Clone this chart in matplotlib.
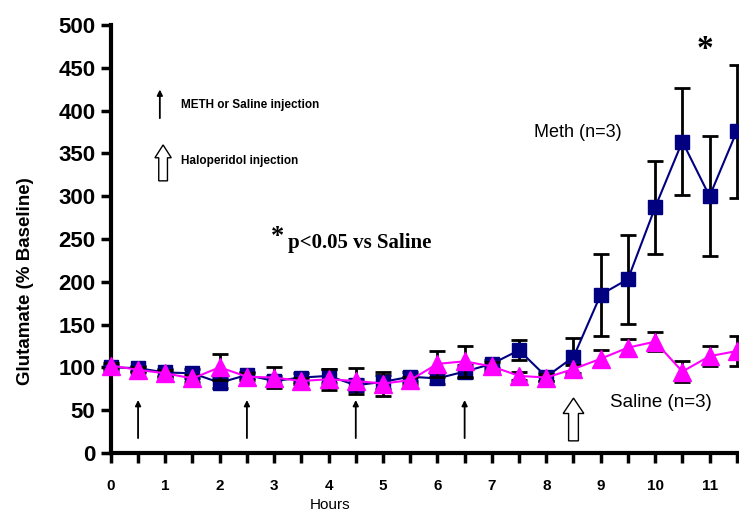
import matplotlib
matplotlib.use("Agg")
import matplotlib.pyplot as plt
from matplotlib.patches import FancyArrow

hours = [0, 0.5, 1, 1.5, 2, 2.5, 3, 3.5, 4, 4.5, 5, 5.5, 6, 6.5, 7, 7.5, 8, 8.5,
         9, 9.5, 10, 10.5, 11, 11.5]
meth = [100, 99, 94, 93, 82, 91, 84, 88, 90, 79, 83, 89, 87, 95, 104, 120, 89, 112,
        185, 203, 287, 364, 300, 376]
meth_err = [3, 3, 4, 5, 6, 4, 6, 5, 8, 7, 8, 5, 6, 8, 5, 12, 5, 22,
            48, 52, 54, 63, 70, 78]
saline = [102, 97, 93, 87, 100, 89, 88, 84, 86, 84, 81, 85, 104, 107, 101, 90, 88, 98,
          110, 123, 130, 95, 113, 119]
saline_err = [3, 3, 4, 4, 15, 4, 12, 4, 12, 15, 14, 4, 15, 18, 5, 5, 4, 5,
              10, 10, 11, 12, 12, 18]
meth_inj_hours = [0.5, 2.5, 4.5, 6.5]
halo_hour = 8.5
x_labels = [str(i) for i in range(12)]
y_ticks = [0, 50, 100, 150, 200, 250, 300, 350, 400, 450, 500]

plt.rcParams['font.family'] = ['Liberation Sans', 'DejaVu Sans']

fig = plt.figure(figsize=(7.39, 5.14), dpi=100)
ax = fig.add_axes([0.150, 0.119, 0.847, 0.832])

ax.errorbar(hours, meth, yerr=meth_err, color='#000080', marker='s', markersize=10,
            linewidth=1.5, ecolor='black', elinewidth=2, capsize=6, capthick=2,
            clip_on=False, zorder=3)
ax.errorbar(hours, saline, yerr=saline_err, color='#FF00FF', marker='^', markersize=13,
            linewidth=1.5, ecolor='black', elinewidth=2, capsize=6, capthick=2,
            clip_on=False, zorder=4)

ax.set_xlim(0, 11.5)
ax.set_ylim(0, 500)
ax.set_yticks(y_ticks)
ax.set_yticklabels([str(v) for v in y_ticks], fontsize=16, fontweight='bold')
ax.set_xticks([h for h in hours])
ax.set_xticklabels([x_labels[int(h)] if float(h).is_integer() else '' for h in hours],
                   fontsize=11, fontweight='bold')
ax.tick_params(axis='both', direction='out', width=2.5, length=7)
ax.tick_params(axis='x', pad=12)
ax.tick_params(axis='y', pad=4)
for s in ['top', 'right']:
    ax.spines[s].set_visible(False)
for s in ['left', 'bottom']:
    ax.spines[s].set_linewidth(3)

fig.text(0.035, 0.453, 'Glutamate (% Baseline)', fontsize=13.5, fontweight='bold',
         rotation=90, ha='center', va='center')
fig.text(0.447, 0.018, 'Hours', fontsize=11, ha='center', va='center')

# injection arrows
for h in meth_inj_hours:
    ax.annotate('', xy=(h, 65), xytext=(h, 14),
                arrowprops=dict(arrowstyle='-|>', color='black', lw=1.3,
                                mutation_scale=8))
ax.add_patch(FancyArrow(halo_hour, 14, 0, 50, width=0.18, head_width=0.38,
                        head_length=18, length_includes_head=True,
                        facecolor='white', edgecolor='black', lw=1))

# legend-like annotations
ax.annotate('', xy=(0.9, 428), xytext=(0.9, 388),
            arrowprops=dict(arrowstyle='-|>', color='black', lw=1.3, mutation_scale=8))
ax.text(1.29, 407, 'METH or Saline injection', fontsize=8.5, fontweight='bold',
        va='center', ha='left')
ax.add_patch(FancyArrow(0.96, 318, 0, 42, width=0.16, head_width=0.3,
                        head_length=15, length_includes_head=True,
                        facecolor='white', edgecolor='black', lw=1))
ax.text(1.29, 341, 'Haloperidol injection', fontsize=8.5, fontweight='bold',
        va='center', ha='left')

ax.text(3.07, 253, '*', fontsize=19, fontweight='bold', family='Liberation Serif',
        ha='center', va='center')
ax.text(3.25, 245, 'p<0.05 vs Saline', fontsize=15, fontweight='bold',
        family='Liberation Serif', ha='left', va='center')

ax.text(7.78, 375, 'Meth (n=3)', fontsize=13, ha='left', va='center')
ax.text(9.17, 59, 'Saline (n=3)', fontsize=13.5, ha='left', va='center')
ax.text(10.92, 472, '*', fontsize=24, fontweight='bold', family='Liberation Serif',
        ha='center', va='center')

fig.savefig('out.png', dpi=100)
